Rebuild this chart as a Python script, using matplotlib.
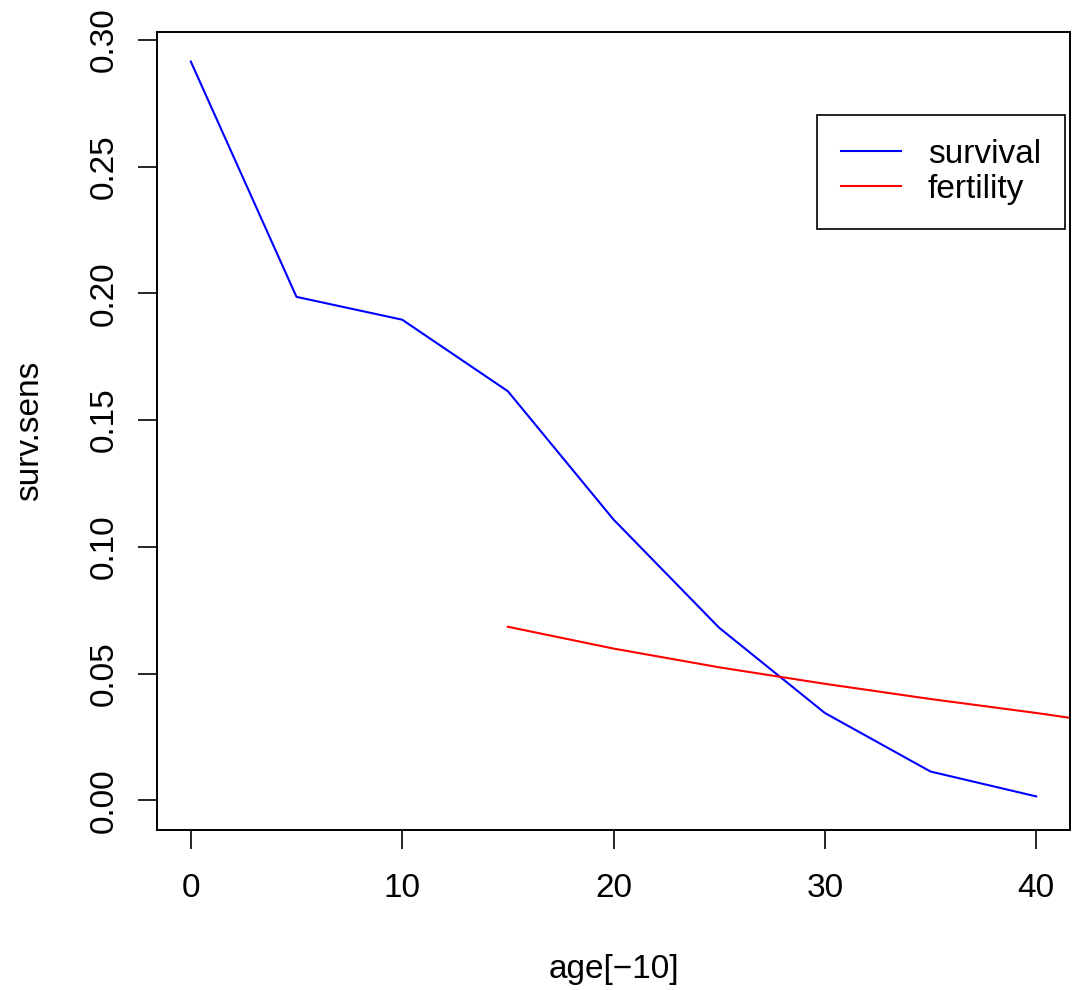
import matplotlib.pyplot as plt

plt.rcParams["font.family"] = ["Liberation Sans", "DejaVu Sans"]

# age classes (first class dropped) and sensitivities
age = [0, 5, 10, 15, 20, 25, 30, 35, 40]
surv_sens = [0.2914, 0.1986, 0.1896, 0.1614, 0.1108, 0.0681, 0.0345, 0.0114, 0.0016]

fert_age = [15, 20, 25, 30, 35, 40, 45]
fert_sens = [0.0685, 0.0599, 0.0525, 0.0460, 0.0400, 0.0345, 0.0285]

xticks = [0, 10, 20, 30, 40]
yticks = [0.00, 0.05, 0.10, 0.15, 0.20, 0.25, 0.30]

fs = 24

fig = plt.figure(figsize=(10.72, 9.9), dpi=100)
ax = fig.add_axes([157 / 1072, 1 - 830 / 990, 913 / 1072, 798 / 990])

ax.plot(age, surv_sens, color="blue", lw=1.5, label="survival")
ax.plot(fert_age, fert_sens, color="red", lw=1.5, label="fertility")

# R-style 4% padding around the survival data range
xr = max(age) - min(age)
yr = max(surv_sens) - 0
ax.set_xlim(min(age) - 0.04 * xr, max(age) + 0.04 * xr)
ax.set_ylim(0 - 0.04 * yr, max(surv_sens) + 0.04 * yr)

ax.set_xticks(xticks)
ax.set_xticklabels([str(t) for t in xticks])
ax.set_yticks(yticks)
ax.set_yticklabels([f"{t:.2f}" for t in yticks], rotation=90, va="center")
ax.tick_params(direction="out", length=14, width=1.2, labelsize=fs)
ax.tick_params(axis="x", pad=17)
ax.tick_params(axis="y", pad=13)
for s in ax.spines.values():
    s.set_linewidth(1.4)

ax.set_xlabel("age[\u221210]", fontsize=fs, labelpad=36)
ax.set_ylabel("surv.sens", fontsize=fs, labelpad=31)

leg = ax.legend(loc="upper right", bbox_to_anchor=(0.9945, 0.896), borderaxespad=0,
                fontsize=fs, handlelength=1.8, handletextpad=0.8, borderpad=0.72,
                labelspacing=0.12, fancybox=False, framealpha=1, edgecolor="black")
leg.get_frame().set_linewidth(1.2)

fig.savefig("out.png", dpi=100)
